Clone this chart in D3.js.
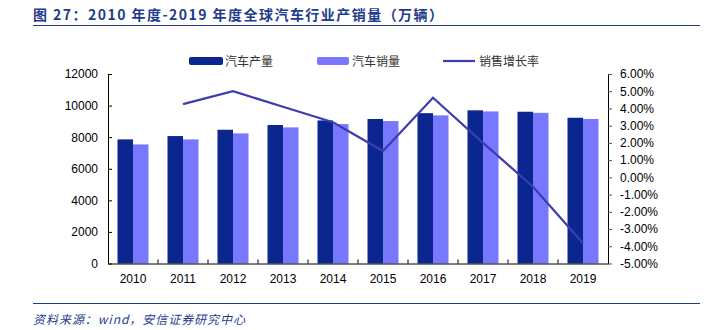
<!DOCTYPE html>
<html><head><meta charset="utf-8">
<script src="https://cdn.jsdelivr.net/npm/d3@7"></script>
<style>body{margin:0;background:#fff}svg{display:block}</style>
</head><body><svg id="c" width="715" height="330"></svg>
<script>
const years = ["2010","2011","2012","2013","2014","2015","2016","2017","2018","2019"];
const production = [7860, 8070, 8470, 8770, 9060, 9150, 9520, 9700, 9610, 9230];
const sales = [7540, 7860, 8240, 8620, 8830, 9020, 9380, 9630, 9540, 9150];
const growth = [null, 4.25, 5.0, 4.1, 3.2, 1.53, 4.62, 2.0, -0.54, -3.83];
const leftTicks = [0, 2000, 4000, 6000, 8000, 10000, 12000];
const rightTicks = [6, 5, 4, 3, 2, 1, 0, -1, -2, -3, -4, -5];
const seriesNames = ["汽车产量", "汽车销量", "销售增长率"];
const titleText = "图 27：2010 年度-2019 年度全球汽车行业产销量（万辆）";
const sourceText = "资料来源：wind，安信证券研究中心";

const svg = d3.select("#c");
const L = 108, R = 608, T = 74, B = 263.5;
const cDark = "#0c268f", cLight = "#7878ff", cLine = "#3d3db0", cBlue = "#1f3c8c";
const font = "'Liberation Sans', Arial, sans-serif";
const cjk = "'Noto Sans CJK SC', sans-serif";

// title
svg.append("text").attr("x", 33).attr("y", 20).attr("font-family", cjk)
  .attr("font-weight", "bold").attr("font-size", 14).attr("fill", cBlue)
  .attr("textLength", 410).attr("lengthAdjust", "spacing").text(titleText);
svg.append("line").attr("x1", 33).attr("x2", 700).attr("y1", 25.5).attr("y2", 25.5)
  .attr("stroke", cBlue).attr("stroke-width", 1);
// footer
svg.append("line").attr("x1", 33).attr("x2", 700).attr("y1", 303.5).attr("y2", 303.5)
  .attr("stroke", cBlue).attr("stroke-width", 1);
svg.append("text").attr("x", 33).attr("y", 324).attr("font-family", cjk)
  .attr("font-style", "italic").attr("font-size", 12).attr("fill", cBlue)
  .attr("textLength", 212).attr("lengthAdjust", "spacing").text(sourceText);

const x = d3.scaleBand().domain(years).range([L, R]).paddingInner(0).paddingOuter(0);
const yL = d3.scaleLinear().domain([0, 12000]).range([B, T]);
const yR = d3.scaleLinear().domain([-5, 6]).range([B, T]);
const bw = 15.5;

// bars
const g = svg.append("g");
g.selectAll(".p").data(years).enter().append("rect")
  .attr("x", d => x(d) + x.bandwidth()/2 - bw).attr("width", bw)
  .attr("y", (d,i) => yL(production[i])).attr("height", (d,i) => B - yL(production[i]))
  .attr("fill", cDark);
g.selectAll(".s").data(years).enter().append("rect")
  .attr("x", d => x(d) + x.bandwidth()/2).attr("width", bw)
  .attr("y", (d,i) => yL(sales[i])).attr("height", (d,i) => B - yL(sales[i]))
  .attr("fill", cLight);

// line
const pts = years.map((d,i) => [x(d) + x.bandwidth()/2, growth[i]]).filter(p => p[1] !== null);
svg.append("path").datum(pts)
  .attr("d", d3.line().x(p => p[0]).y(p => yR(p[1])))
  .attr("fill", "none").attr("stroke", cLine).attr("stroke-width", 2.2);

// left axis
const ax = svg.append("g").attr("transform", `translate(${L},0)`)
  .call(d3.axisLeft(yL).tickValues(leftTicks).tickSizeInner(-4).tickSizeOuter(0).tickPadding(10).tickFormat(d3.format("d")));
ax.select(".domain").attr("stroke", "#000");
ax.selectAll("text").attr("font-family", font).attr("font-size", 12).attr("fill", "#000");
ax.selectAll(".tick line").attr("stroke", "#000");

// right axis
const ar = svg.append("g").attr("transform", `translate(${R},0)`)
  .call(d3.axisRight(yR).tickValues(rightTicks).tickSizeInner(4).tickSizeOuter(0).tickPadding(8).tickFormat(d => d.toFixed(2) + "%"));
ar.select(".domain").attr("stroke", "#000");
ar.selectAll("text").attr("font-family", font).attr("font-size", 12).attr("fill", "#000");
ar.selectAll(".tick line").attr("stroke", "#555");

// bottom axis
const ab = svg.append("g").attr("transform", `translate(0,${B})`)
  .call(d3.axisBottom(x).tickSize(0).tickPadding(11));
ab.select(".domain").attr("stroke", "#000");
ab.selectAll("text").attr("font-family", font).attr("font-size", 12).attr("fill", "#000");
svg.append("g").selectAll("line").data(years.slice(1)).enter().append("line")
  .attr("x1", d => x(d)).attr("x2", d => x(d)).attr("y1", B).attr("y2", B - 4)
  .attr("stroke", "#000");

// legend
const lg = svg.append("g").attr("font-family", cjk).attr("font-size", 12).attr("fill", "#333");
lg.append("rect").attr("x", 189).attr("y", 57).attr("width", 34).attr("height", 8).attr("rx", 2).attr("fill", cDark);
lg.append("text").attr("x", 225).attr("y", 65.5).text(seriesNames[0]);
lg.append("rect").attr("x", 317).attr("y", 57).attr("width", 32).attr("height", 8).attr("rx", 2).attr("fill", cLight);
lg.append("text").attr("x", 352).attr("y", 65.5).text(seriesNames[1]);
lg.append("line").attr("x1", 443).attr("x2", 475).attr("y1", 61).attr("y2", 61).attr("stroke", cLine).attr("stroke-width", 2.2);
lg.append("text").attr("x", 479).attr("y", 65.5).text(seriesNames[2]);
</script></body></html>
